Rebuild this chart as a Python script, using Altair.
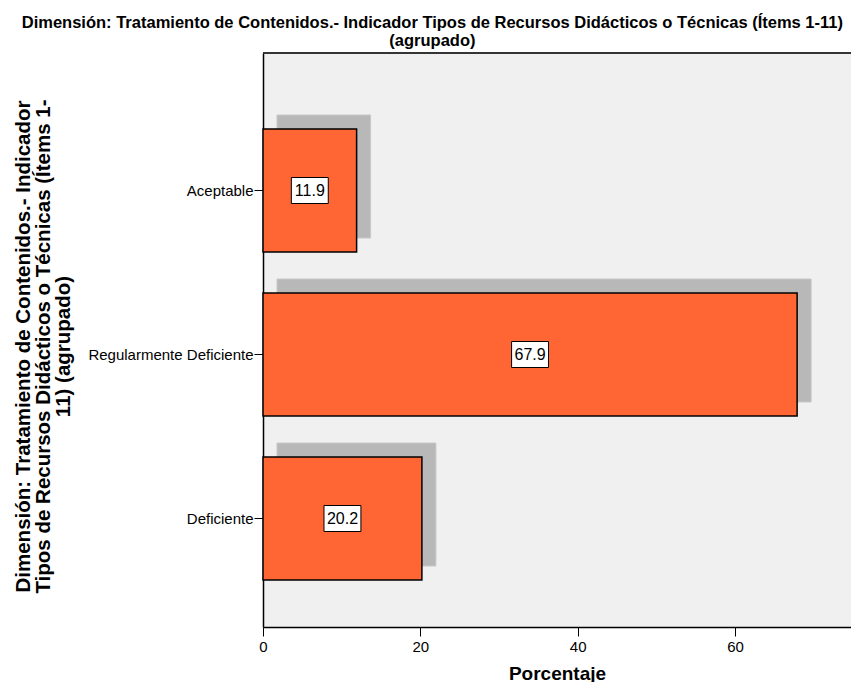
import altair as alt
import pandas as pd

# ---- data ----
categories = ["Aceptable", "Regularmente Deficiente", "Deficiente"]
values = [11.9, 67.9, 20.2]
x_ticks = [0, 20, 40, 60]

title_lines = [
    "Dimensión: Tratamiento de Contenidos.- Indicador Tipos de Recursos Didácticos o Técnicas (Ítems 1-11)",
    "(agrupado)",
]
y_title_lines = [
    "Dimensión: Tratamiento de Contenidos.- Indicador",
    "Tipos de Recursos Didácticos o Técnicas (Ítems 1-",
    "11) (agrupado)",
]
x_title = "Porcentaje"

df = pd.DataFrame({"cat": categories, "val": values})
df["mid"] = df["val"] / 2
df["label"] = df["val"].map(lambda v: f"{v:.1f}")

W, H = 588, 574
FONT = "Liberation Sans"

x_scale = alt.Scale(domain=[0, 74.75], nice=False, zero=True)
y_scale = alt.Scale(paddingInner=0.25, paddingOuter=0.375, align=0.618)

x_axis = alt.Axis(
    values=x_ticks, title=x_title, grid=False, labelFlush=False,
    labelFont=FONT, labelFontSize=15, labelColor="black", labelPadding=3,
    tickSize=9, tickColor="black", tickWidth=1,
    domainColor="black", domainWidth=1.5,
    titleFont=FONT, titleFontSize=19, titleFontWeight="bold", titleColor="black",
    titleY=37, titleBaseline="top",
)
y_axis = alt.Axis(
    title=y_title_lines, grid=False,
    labelFont=FONT, labelFontSize=15, labelColor="black", labelPadding=1,
    tickSize=9, tickColor="black", tickWidth=1,
    domainColor="black", domainWidth=1.5,
    titleFont=FONT, titleFontSize=20.5, titleFontWeight="bold", titleColor="black",
    titleAngle=270, titleX=-240, titleY=293, titleAlign="center",
    titleBaseline="middle", titleLineHeight=20,
)

base = alt.Chart(df)

shadow = base.mark_bar(
    color="#b8b8b8", stroke="#c8c8c8", strokeWidth=1,
    xOffset=14, x2Offset=14, yOffset=-14,
).encode(
    x=alt.X("val:Q", scale=x_scale, axis=x_axis),
    y=alt.Y("cat:N", sort=categories, scale=y_scale, axis=y_axis),
)

bars = base.mark_bar(color="#ff6633", stroke="black", strokeWidth=1.5).encode(
    x=alt.X("val:Q", scale=x_scale, axis=x_axis),
    y=alt.Y("cat:N", sort=categories, scale=y_scale, axis=y_axis),
)

box = base.mark_point(
    shape="M-1.42,-1L1.42,-1L1.42,1L-1.42,1Z", size=676, filled=True,
    fill="white", stroke="black", strokeWidth=1, opacity=1,
).encode(
    x=alt.X("mid:Q", scale=x_scale),
    y=alt.Y("cat:N", sort=categories, scale=y_scale),
)

text = base.mark_text(font=FONT, fontSize=16, color="black").encode(
    x=alt.X("mid:Q", scale=x_scale),
    y=alt.Y("cat:N", sort=categories, scale=y_scale),
    text="label:N",
)

top_line = alt.Chart(df).mark_rule(color="#333333", strokeWidth=1.5).encode(
    x=alt.value(0), x2=alt.value(W), y=alt.value(0)
)

chart = alt.layer(shadow, bars, box, text, top_line).properties(
    width=W, height=H,
    title=alt.TitleParams(
        text=title_lines, font=FONT, fontSize=16.5, fontWeight="bold",
        color="black", anchor="middle", frame="bounds", lineHeight=18, offset=3,
    ),
    padding={"left": 255, "top": 45, "right": 0, "bottom": 55},
    autosize=alt.AutoSizeParams(type="none"),
    background="white",
).configure_view(fill="#f0f0f0", stroke="transparent")

chart.save("out.html", embed_options={"renderer": "svg", "actions": False})
